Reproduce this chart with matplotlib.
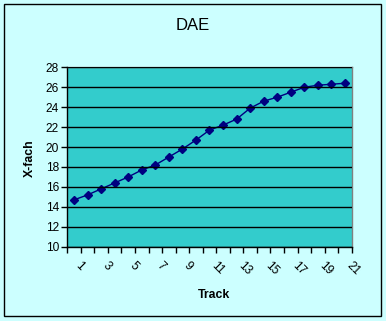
import matplotlib
matplotlib.use("Agg")
import matplotlib.pyplot as plt
from matplotlib.patches import Rectangle
import numpy as np

tracks = list(range(1, 22))
xfach = [14.7, 15.2, 15.8, 16.4, 17.0, 17.7, 18.2, 19.0, 19.8, 20.7, 21.7,
         22.2, 22.8, 23.9, 24.6, 25.0, 25.5, 26.0, 26.2, 26.3, 26.4]
yticks = list(range(10, 29, 2))
title = "DAE"
xlabel = "Track"
ylabel = "X-fach"

plt.rcParams['font.family'] = ['Liberation Sans', 'DejaVu Sans']

W, H = 386, 321
fig = plt.figure(figsize=(W / 100, H / 100), dpi=100)
fig.patch.set_facecolor('#CCFFFF')
fig.patches.append(Rectangle((4 / W, 1 - 316 / H), 377 / W, 312 / H,
                             transform=fig.transFigure, fill=False,
                             edgecolor='black', linewidth=1.0))

left, right, top, bottom = 67.3, 351.7, 67.3, 246.7
ax = fig.add_axes([left / W, 1 - bottom / H, (right - left) / W, (bottom - top) / H])
ax.set_facecolor('#33CCCC')

n = len(tracks)
xs = np.arange(n)
ax.plot(xs, xfach, color='#000080', linewidth=1.0, marker='D', markersize=3.8,
        markerfacecolor='#000080', markeredgecolor='#000080')

ax.set_xlim(-0.5, n - 0.5)
ax.set_ylim(10, 28)
ax.set_yticks(yticks)
ax.set_yticklabels([str(v) for v in yticks], fontsize=8.6)
ax.yaxis.grid(True, color='black', linewidth=1.0)
ax.set_axisbelow(False)

ax.set_xticks(np.arange(n + 1) - 0.5)
ax.set_xticklabels([])
ax.tick_params(axis='both', direction='out', length=4, width=1, color='black')
ax.tick_params(axis='y', pad=2)

for i, t in enumerate(tracks):
    if t % 2 == 1:
        ax.annotate(str(t), xy=(i, 10), xycoords='data', xytext=(5.5, -9.5),
                    textcoords='offset points', rotation=-45,
                    rotation_mode='anchor', ha='left', va='top', fontsize=8.6)

for s in ['left', 'bottom']:
    ax.spines[s].set_color('black')
    ax.spines[s].set_linewidth(1.0)
for s in ['top', 'right']:
    ax.spines[s].set_color('#808080')
    ax.spines[s].set_linewidth(1.0)

fig.text(193 / W, 1 - 25 / H, title, ha='center', va='center', fontsize=12)
fig.text(214 / W, 1 - 295 / H, xlabel, ha='center', va='center', fontsize=8.8,
         fontweight='bold')
fig.text(30 / W, 1 - 158 / H, ylabel, ha='center', va='center', fontsize=8.8,
         fontweight='bold', rotation=90)

fig.savefig('out.png', dpi=100, facecolor=fig.get_facecolor())
